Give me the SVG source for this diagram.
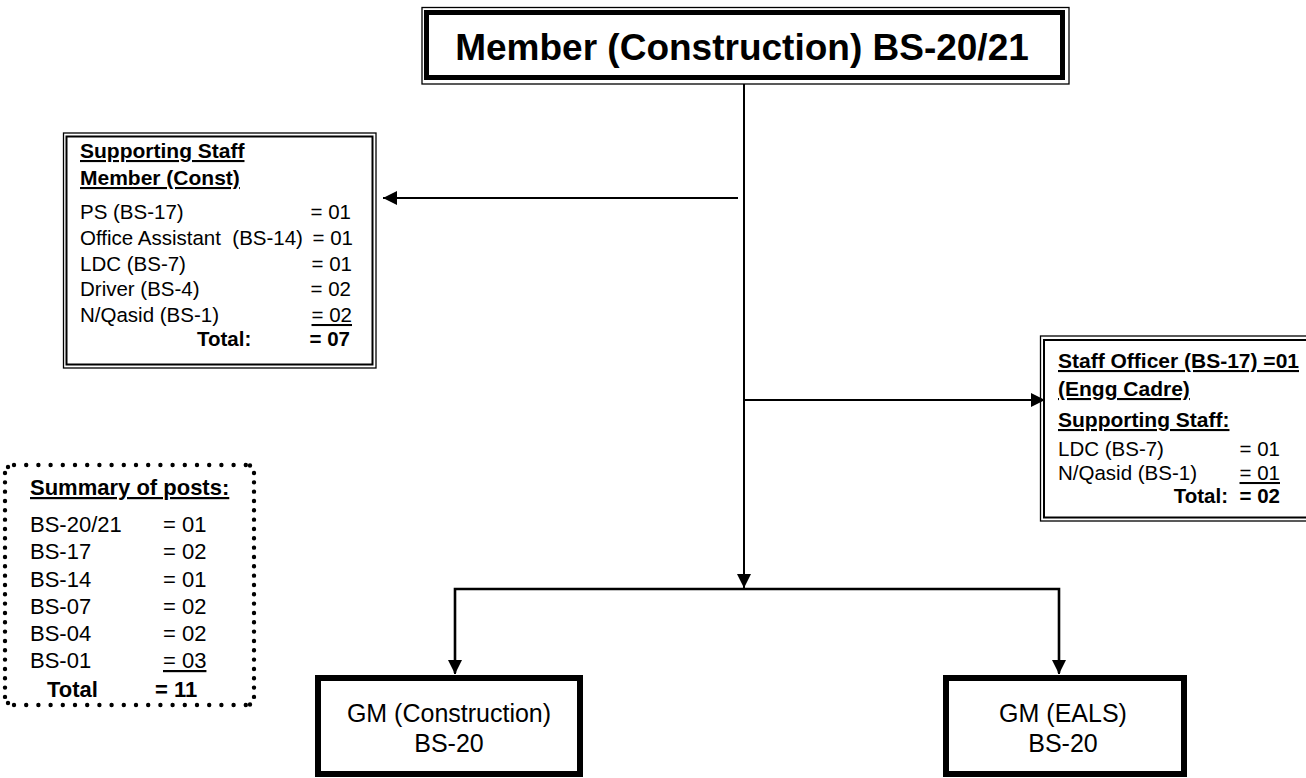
<svg xmlns="http://www.w3.org/2000/svg" width="1306" height="778" viewBox="0 0 1306 778">
<style>
text{font-family:"Liberation Sans",Arial,sans-serif;fill:#000}
.t21{font-size:20.5px}
.h21{font-size:21px}
.t22{font-size:22px}
.b{font-weight:bold}
.u{text-decoration:underline}
.conn{stroke:#000;stroke-width:2;fill:none}
.thin{fill:none;stroke:#000;stroke-width:1.3}
.dbl{fill:none;stroke:#000;stroke-width:2}
.gm{font-size:25px}
</style>
<defs>
<marker id="ah" markerUnits="userSpaceOnUse" markerWidth="14" markerHeight="14" viewBox="0 0 12 12" refX="12" refY="6" orient="auto">
<path d="M0,0 L12,6 L0,12 z" fill="#000"/>
</marker>
</defs>
<rect width="1306" height="778" fill="#fff"/>

<g id="connectors">
<line class="conn" x1="744" y1="84" x2="744" y2="588" marker-end="url(#ah)"/>
<line class="conn" x1="738" y1="198" x2="383" y2="198" marker-end="url(#ah)"/>
<line class="conn" x1="744" y1="400" x2="1045" y2="400" marker-end="url(#ah)"/>
<polyline class="conn" style="stroke-width:2.6" points="455,673 455,589 1059,589 1059,673"/>
<line class="conn" x1="455" y1="600" x2="455" y2="674" marker-end="url(#ah)"/>
<line class="conn" x1="1059" y1="600" x2="1059" y2="674" marker-end="url(#ah)"/>
</g>

<g id="member">
<rect class="thin" x="422" y="7.5" width="647" height="76.5" stroke-width="1.5"/>
<rect x="426.5" y="12.5" width="636" height="65" fill="#fff" stroke="#000" stroke-width="5"/>
<text x="742" y="60" text-anchor="middle" class="b" font-size="37">Member (Construction) BS-20/21</text>
</g>

<g id="supporting-staff">
<rect class="thin" x="63.5" y="133" width="312.5" height="235"/>
<rect class="dbl" x="66.5" y="136.5" width="306" height="228"/>
<text x="80" y="158" class="h21 b u">Supporting Staff</text>
<text x="80" y="185" class="h21 b u">Member (Const)</text>
<text x="80" y="219" class="t21">PS (BS-17)</text>
<text x="351" y="219" class="t21" text-anchor="end">= 01</text>
<text x="80" y="245" class="t21" xml:space="preserve">Office Assistant  (BS-14)</text>
<text x="353" y="245" class="t21" text-anchor="end">= 01</text>
<text x="80" y="271" class="t21">LDC (BS-7)</text>
<text x="352" y="271" class="t21" text-anchor="end">= 01</text>
<text x="80" y="296" class="t21">Driver (BS-4)</text>
<text x="351" y="296" class="t21" text-anchor="end">= 02</text>
<text x="80" y="322" class="t21">N/Qasid (BS-1)</text>
<text x="352" y="322" class="t21 u" text-anchor="end">= 02</text>
<text x="197" y="346" class="t21 b">Total:</text>
<text x="350" y="346" class="t21 b" text-anchor="end">= 07</text>
</g>

<g id="staff-officer">
<rect class="thin" x="1040.5" y="336" width="280" height="185"/>
<rect class="dbl" x="1044" y="340" width="280" height="177.5"/>
<text x="1058" y="368" class="h21 b u">Staff Officer (BS-17) =01</text>
<text x="1058" y="396" class="h21 b u">(Engg Cadre)</text>
<text x="1058" y="427" class="h21 b u">Supporting Staff:</text>
<text x="1058" y="456" class="t21">LDC (BS-7)</text>
<text x="1280" y="456" class="t21" text-anchor="end">= 01</text>
<text x="1058" y="480" class="t21">N/Qasid (BS-1)</text>
<text x="1280" y="480" class="t21 u" text-anchor="end">= 01</text>
<text x="1228" y="503" class="t21 b" text-anchor="end">Total:</text>
<text x="1280" y="503" class="t21 b" text-anchor="end">= 02</text>
</g>

<g id="summary">
<g stroke="#000" stroke-width="4.4" stroke-linecap="round" fill="none">
<line x1="14" y1="465" x2="246" y2="465" stroke-dasharray="0 12.2"/>
<line x1="14" y1="705" x2="246" y2="705" stroke-dasharray="0 12.2"/>
<line x1="5" y1="473" x2="5" y2="697" stroke-dasharray="0 9.33"/>
<line x1="254" y1="473" x2="254" y2="697" stroke-dasharray="0 9.33"/>
<path d="M8,467 L10,465.5 M250,465.5 L252,467 M8,703 L10,704.5 M250,704.5 L252,703" stroke-dasharray="0 100"/>
</g>
<text x="30" y="495" class="t22 b u">Summary of posts:</text>
<text x="30" y="532" class="t22">BS-20/21</text>
<text x="163" y="532" class="t22">= 01</text>
<text x="30" y="559" class="t22">BS-17</text>
<text x="163" y="559" class="t22">= 02</text>
<text x="30" y="587" class="t22">BS-14</text>
<text x="163" y="587" class="t22">= 01</text>
<text x="30" y="614" class="t22">BS-07</text>
<text x="163" y="614" class="t22">= 02</text>
<text x="30" y="641" class="t22">BS-04</text>
<text x="163" y="641" class="t22">= 02</text>
<text x="30" y="668" class="t22">BS-01</text>
<text x="163" y="668" class="t22 u">= 03</text>
<text x="47" y="697" class="t22 b">Total</text>
<text x="155" y="697" class="t22 b">= 11</text>
</g>

<g id="gm-construction">
<rect x="318" y="678" width="262" height="96" fill="#fff" stroke="#000" stroke-width="6"/>
<text x="449" y="722" text-anchor="middle" class="gm">GM (Construction)</text>
<text x="449" y="752" text-anchor="middle" class="gm">BS-20</text>
</g>

<g id="gm-eals">
<rect x="946" y="678" width="238" height="96" fill="#fff" stroke="#000" stroke-width="6"/>
<text x="1063" y="722" text-anchor="middle" class="gm">GM (EALS)</text>
<text x="1063" y="752" text-anchor="middle" class="gm">BS-20</text>
</g>
</svg>
